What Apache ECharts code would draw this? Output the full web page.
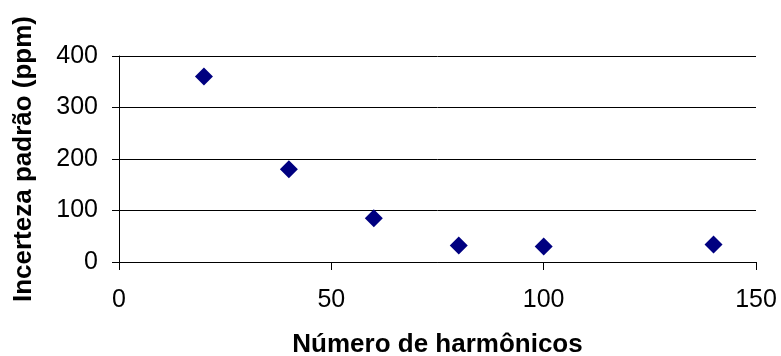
<!DOCTYPE html>
<html><head><meta charset="utf-8">
<script src="https://cdn.jsdelivr.net/npm/echarts@6/dist/echarts.min.js"></script>
<style>html,body{margin:0;padding:0;background:#fff}#c{width:781px;height:356px}</style>
</head><body><div id="c"></div>
<script>
const harmonics = [20, 40, 60, 80, 100, 140];
const uncertainty = [360, 180, 85, 32, 30, 34];
const xTitle = 'Número de harmônicos';
const yTitle = 'Incerteza padrão (ppm)';

const chart = echarts.init(document.getElementById('c'));
const font = 'Liberation Sans, Arial, sans-serif';
chart.setOption({
  animation: false,
  grid: {left: 119, right: 25, top: 56, bottom: 94, containLabel: false, outerBoundsMode: 'none'},
  xAxis: {
    type: 'value', min: 0, max: 150, interval: 50,
    name: xTitle, nameLocation: 'middle', nameGap: 70,
    nameTextStyle: {fontFamily: font, fontSize: 26, fontWeight: 'bold', color: '#000'},
    axisLine: {show: true, lineStyle: {color: '#000', width: 1}},
    axisTick: {show: true, length: 8, lineStyle: {color: '#000'}},
    axisLabel: {fontFamily: font, fontSize: 25, color: '#000', margin: 26},
    splitLine: {show: false}
  },
  yAxis: {
    type: 'value', min: 0, max: 400, interval: 100,
    name: yTitle, nameLocation: 'middle', nameGap: 82,
    nameTextStyle: {fontFamily: font, fontSize: 26, fontWeight: 'bold', color: '#000'},
    axisLine: {show: true, lineStyle: {color: '#000', width: 1}},
    axisTick: {show: true, length: 7, lineStyle: {color: '#000'}},
    axisLabel: {fontFamily: font, fontSize: 25, color: '#000', margin: 21},
    splitLine: {show: true, lineStyle: {color: '#000', width: 1}}
  },
  series: [{
    type: 'scatter',
    data: harmonics.map((x, i) => [x, uncertainty[i]]),
    symbol: 'diamond', symbolSize: [18, 18],
    itemStyle: {color: '#000080', opacity: 1}
  }]
});
</script></body></html>
